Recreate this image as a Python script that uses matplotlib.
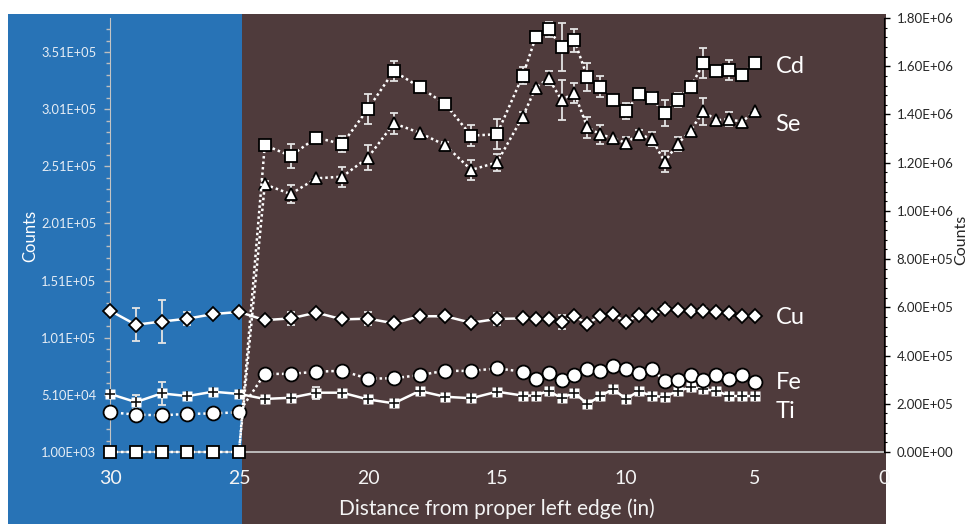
import numpy as np
import matplotlib.pyplot as plt
from matplotlib.patches import Rectangle
from matplotlib.ticker import FixedLocator, FuncFormatter

plt.rcParams['font.family'] = ['Lato', 'DejaVu Sans']

nan = np.nan

# Scan positions (inches from proper left edge)
distance = [30, 29, 28, 27, 26, 25,
            24, 23, 22, 21, 20, 19, 18, 17, 16, 15,
            14, 13.5, 13, 12.5, 12, 11.5, 11, 10.5, 10, 9.5, 9, 8.5, 8,
            7.5, 7, 6.5, 6, 5.5, 5]

cd = [0, 0, 0, 0, 0, 0,
      1.273e6, 1.228e6, 1.304e6, 1.277e6, 1.423e6, 1.580e6, 1.513e6, 1.443e6, 1.312e6, 1.318e6,
      1.561e6, 1.720e6, 1.753e6, 1.680e6, 1.707e6, 1.555e6, 1.515e6, 1.459e6, 1.414e6, 1.483e6,
      1.467e6, 1.406e6, 1.460e6, 1.513e6, 1.612e6, 1.580e6, 1.584e6, 1.564e6, 1.615e6]
cd_err = [0, 0, 0, 0, 0, 0,
          1.2e4, 4.9e4, 1.0e4, 3.3e4, 6.2e4, 4.1e4, 0, 0, 4.4e4, 6.2e4,
          3.5e4, 0, 3.2e4, 1.0e5, 4.6e4, 5.8e4, 4.3e4, 0, 3.3e4, 2.2e4,
          2.5e4, 5.2e4, 3.0e4, 0, 6.2e4, 0, 4.3e4, 0, 0]

se = [nan, nan, nan, nan, nan, 0,
      1.110e6, 1.070e6, 1.135e6, 1.142e6, 1.221e6, 1.363e6, 1.324e6, 1.272e6, 1.170e6, 1.201e6,
      1.391e6, 1.511e6, 1.550e6, 1.460e6, 1.489e6, 1.347e6, 1.318e6, 1.301e6, 1.282e6, 1.319e6,
      1.298e6, 1.204e6, 1.277e6, 1.333e6, 1.413e6, 1.376e6, 1.380e6, 1.370e6, 1.414e6]
se_err = [0, 0, 0, 0, 0, 0,
          1.5e4, 3.9e4, 0, 4.1e4, 5.2e4, 4.3e4, 0, 1.5e4, 4.3e4, 3.6e4,
          2.0e4, 0, 2.9e4, 8.4e4, 4.3e4, 4.3e4, 3.9e4, 0, 2.6e4, 1.5e4,
          2.8e4, 4.4e4, 2.9e4, 0, 5.5e4, 0, 2.9e4, 0, 0]

cu = [5.86e5, 5.28e5, 5.41e5, 5.53e5, 5.72e5, 5.81e5,
      5.47e5, 5.54e5, 5.78e5, 5.50e5, 5.53e5, 5.34e5, 5.63e5, 5.63e5, 5.36e5, 5.52e5,
      5.54e5, 5.50e5, 5.50e5, 5.38e5, 5.64e5, 5.32e5, 5.65e5, 5.71e5, 5.39e5, 5.69e5,
      5.68e5, 5.94e5, 5.90e5, 5.83e5, 5.86e5, 5.79e5, 5.75e5, 5.65e5, 5.65e5]
cu_err = [0, 6.9e4, 9.0e4, 2.8e4, 0, 0,
          0, 2.6e4, 0, 0, 2.6e4, 0, 0, 0, 1.5e4, 2.4e4,
          0, 0, 0, 2.9e4, 0, 0, 0, 0, 0, 0,
          0, 1.5e4, 0, 0, 1.5e4, 0, 1.5e4, 0, 0]

fe = [1.65e5, 1.55e5, 1.52e5, 1.58e5, 1.60e5, 1.65e5,
      3.24e5, 3.24e5, 3.33e5, 3.37e5, 3.04e5, 3.06e5, 3.19e5, 3.37e5, 3.36e5, 3.47e5,
      3.33e5, 3.03e5, 3.29e5, 2.99e5, 3.19e5, 3.43e5, 3.37e5, 3.55e5, 3.46e5, 3.29e5,
      3.46e5, 2.93e5, 2.99e5, 3.19e5, 2.99e5, 3.18e5, 3.04e5, 3.18e5, 2.90e5]

ti = [2.41e5, 2.07e5, 2.43e5, 2.32e5, 2.50e5, 2.41e5,
      2.20e5, 2.25e5, 2.46e5, 2.46e5, 2.18e5, 2.02e5, 2.53e5, 2.29e5, 2.23e5, 2.50e5,
      2.34e5, 2.34e5, 2.54e5, 2.23e5, 2.46e5, 1.99e5, 2.32e5, 2.61e5, 2.20e5, 2.53e5,
      2.32e5, 2.29e5, 2.53e5, 2.68e5, 2.60e5, 2.54e5, 2.32e5, 2.32e5, 2.32e5]
ti_err = [0, 2.8e4, 4.8e4, 0, 0, 0,
          0, 0, 2.5e4, 0, 0, 0, 0, 0, 0, 0,
          0, 0, 0, 0, 0, 0, 0, 0, 0, 0,
          0, 0, 0, 0, 0, 0, 0, 0, 0]

x_ticks = [30, 25, 20, 15, 10, 5, 0]
left_ticks = [1.00e3, 5.10e4, 1.01e5, 1.51e5, 2.01e5, 2.51e5, 3.01e5, 3.51e5]
right_ticks = [0, 2e5, 4e5, 6e5, 8e5, 1.0e6, 1.2e6, 1.4e6, 1.6e6, 1.8e6]

labels = ['Cd', 'Se', 'Cu', 'Fe', 'Ti']
label_y = [1.597e6, 1.360e6, 5.56e5, 2.90e5, 1.66e5]

W, H = 971, 524
BLUE = '#2873b6'
BROWN = '#4f3b3c'
LIGHT = '#e6edf5'
ERR = '#e4e4e4'

fig = plt.figure(figsize=(W / 100, H / 100), dpi=100)
fig.patch.set_facecolor('white')

# shaded panels behind the plot
fig.add_artist(Rectangle((8 / W, 0), (242 - 8) / W, (H - 14) / H,
                         transform=fig.transFigure, facecolor=BLUE,
                         edgecolor='none', zorder=-2))
fig.add_artist(Rectangle((242 / W, 0), (886 - 242) / W, (H - 14) / H,
                         transform=fig.transFigure, facecolor=BROWN,
                         edgecolor='none', zorder=-2))

ax = fig.add_axes([110 / W, (H - 452) / H, (884 - 110) / W, (452 - 18) / H])
ax.set_facecolor('none')
ax.set_xlim(30, 0)
ax.set_ylim(1000, 380750)
ax2 = ax.twinx()
ax2.set_facecolor('none')
ax2.set_ylim(0, 1.8e6)

sci = FuncFormatter(lambda v, p: f"{v:.2E}")

# left axis
ax.yaxis.set_major_locator(FixedLocator(left_ticks))
ax.yaxis.set_minor_locator(FixedLocator(np.arange(1000, 380751, 10000)))
ax.yaxis.set_major_formatter(sci)
ax.tick_params(axis='y', which='major', length=4, width=1, color='#bfbfbf',
               labelcolor=LIGHT, labelsize=9.3, pad=6)
ax.tick_params(axis='y', which='minor', length=3, width=1, color='#bfbfbf')
ax.xaxis.set_major_locator(FixedLocator(x_ticks))
ax.xaxis.set_major_formatter(FuncFormatter(lambda v, p: f"{v:g}"))
ax.tick_params(axis='x', length=0, labelcolor='#f4f4f4', labelsize=14, pad=13)
for s in ('top', 'right'):
    ax.spines[s].set_visible(False)
ax.spines['left'].set_color('#c4c4c4')
ax.spines['bottom'].set_color('#c4c4c4')
ax.spines['bottom'].set_linewidth(1.3)

# right axis
for s in ('top', 'left', 'bottom'):
    ax2.spines[s].set_visible(False)
ax2.spines['right'].set_color('black')
ax2.yaxis.set_major_locator(FixedLocator(right_ticks))
ax2.yaxis.set_minor_locator(FixedLocator(np.arange(0, 1.8e6 + 1, 4e4)))
ax2.yaxis.set_major_formatter(sci)
ax2.tick_params(axis='y', which='major', length=4, width=1, color='black',
                labelcolor='#262626', labelsize=9.5, pad=5)
ax2.tick_params(axis='y', which='minor', length=2.5, width=0.8, color='black')

mk = dict(markeredgecolor='black', markerfacecolor='white', markeredgewidth=1.3)
eb = dict(fmt='none', ecolor=ERR, elinewidth=1.3, capsize=3, capthick=1.3)

# Ti
ax2.errorbar(distance, ti, yerr=ti_err, zorder=2, **eb)
ax2.plot(distance, ti, color='white', lw=1.8, zorder=3, clip_on=False)
ax2.plot(distance, ti, ls='none', marker='s', ms=7, mfc='white', mec='none',
         zorder=3.1, clip_on=False)
ax2.plot(distance, ti, ls='none', marker='+', ms=7, mec='#111111', mew=1.2,
         zorder=3.2, clip_on=False)

# Fe
ax2.plot(distance, fe, color='white', lw=1.8, ls=(0, (1, 1.2)), marker='o', ms=10,
         zorder=4, clip_on=False, **mk)

# Cu
ax2.errorbar(distance, cu, yerr=cu_err, zorder=2, **eb)
ax2.plot(distance, cu, color='white', lw=1.8, marker='D', ms=7, zorder=5,
         clip_on=False, **mk)

# Se
ax2.errorbar(distance, se, yerr=se_err, zorder=2, **eb)
ax2.plot(distance, se, color='white', lw=1.8, ls=(0, (1, 1.2)), marker='^', ms=9,
         markevery=slice(6, None), zorder=6, clip_on=False, **mk)

# Cd
ax2.errorbar(distance, cd, yerr=cd_err, zorder=2, **eb)
ax2.plot(distance, cd, color='white', lw=1.8, ls=(0, (1, 1.2)), marker='s', ms=8.5,
         zorder=7, clip_on=False, **mk)

for name, yv in zip(labels, label_y):
    ax2.text(4.2, yv, name, color='white', fontsize=17, ha='left', va='center')

fig.text(30 / W, 1 - 236 / H, 'Counts', rotation=90, color='white', fontsize=12,
         ha='center', va='center')
fig.text(961 / W, 1 - 240 / H, 'Counts', rotation=90, color='#262626', fontsize=11.5,
         ha='center', va='center')
fig.text(497 / W, 1 - 509 / H, 'Distance from proper left edge (in)', color='#f4f4f4',
         fontsize=15, ha='center', va='center')

fig.savefig('out.png', dpi=100)
